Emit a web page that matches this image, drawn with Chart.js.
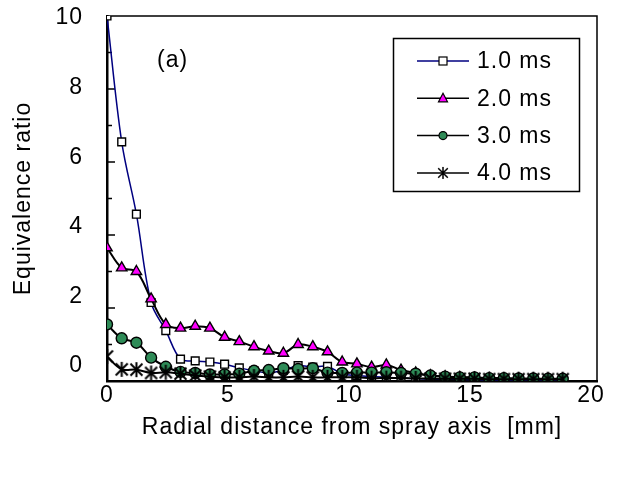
<!DOCTYPE html>
<html>
<head>
<meta charset="utf-8">
<style>
  html, body { margin: 0; padding: 0; background: #fff; }
  #wrap { width: 619px; height: 477px; }
</style>
<script src="https://cdn.jsdelivr.net/npm/chart.js@4.4.1/dist/chart.umd.min.js"></script>
</head>
<body>
<div id="wrap"><canvas id="chart" width="619" height="477"></canvas></div>
<script>
// radial positions [mm]
const distance = [0, 0.6, 1.2, 1.8, 2.4, 3.0, 3.6, 4.2, 4.8, 5.4, 6.0, 6.6, 7.2, 7.8, 8.4, 9.0,
  9.6, 10.2, 10.8, 11.4, 12.0, 12.6, 13.2, 13.8, 14.4, 15.0, 15.6, 16.2, 16.8, 17.4, 18.0, 18.6];

// equivalence ratio for each time after injection
const phi10 = [10, 6.55, 4.57, 2.15, 1.38, 0.6, 0.55, 0.52, 0.46, 0.36, 0.28, 0.22, 0.3, 0.42, 0.38, 0.4,
  0.2, 0.15, 0.12, 0.1, 0.08, 0.06, 0.05, 0.05, 0.04, 0.04, 0.03, 0.03, 0.03, 0.03, 0.02, 0.02];
const phi20 = [3.65, 3.1, 3.0, 2.25, 1.55, 1.45, 1.5, 1.45, 1.2, 1.08, 0.94, 0.82, 0.76, 1.0, 0.94, 0.8,
  0.52, 0.47, 0.38, 0.44, 0.3, 0.22, 0.15, 0.12, 0.1, 0.08, 0.07, 0.06, 0.05, 0.05, 0.04, 0.04];
const phi30 = [1.55, 1.17, 1.05, 0.64, 0.39, 0.25, 0.22, 0.18, 0.18, 0.2, 0.28, 0.3, 0.35, 0.33, 0.35, 0.23,
  0.22, 0.23, 0.23, 0.24, 0.22, 0.2, 0.15, 0.12, 0.1, 0.1, 0.08, 0.08, 0.07, 0.07, 0.06, 0.06];
const phi40 = [0.67, 0.32, 0.31, 0.22, 0.24, 0.2, 0.15, 0.12, 0.1, 0.1, 0.12, 0.1, 0.1, 0.12, 0.1, 0.1,
  0.1, 0.1, 0.08, 0.08, 0.08, 0.07, 0.07, 0.06, 0.06, 0.06, 0.05, 0.05, 0.05, 0.05, 0.05, 0.05];

const seriesLabels = ["1.0 ms", "2.0 ms", "3.0 ms", "4.0 ms"];
const xTicks = [0, 5, 10, 15, 20];
const yTicks = [0, 2, 4, 6, 8, 10];

const FONT = "Liberation Sans, Arial, sans-serif";
const FSIZE = 23;
const SPACING = "1px";

function pts(ys) {
  return distance.map((x, i) => ({ x: x, y: ys[i] }));
}

// asterisk marker like the spreadsheet one (vertical bar + X)
function makeStar(size, lw) {
  const c = document.createElement("canvas");
  c.width = size; c.height = size;
  const g = c.getContext("2d");
  const m = size / 2, r = size / 2 - 1;
  g.strokeStyle = "#000";
  g.lineWidth = lw;
  g.beginPath();
  g.moveTo(m, m - r); g.lineTo(m, m + r);
  const d = r * 0.8;
  g.moveTo(m - d, m - d); g.lineTo(m + d, m + d);
  g.moveTo(m + d, m - d); g.lineTo(m - d, m + d);
  g.stroke();
  return c;
}
const starBig = makeStar(17, 2);
const starSmall = makeStar(14, 1.5);

const spacingPlugin = {
  id: "spacing",
  beforeLayout(chart) { chart.ctx.letterSpacing = SPACING; },
  beforeDraw(chart) { chart.ctx.letterSpacing = SPACING; }
};

const framePlugin = {
  id: "frame",
  beforeDatasetsDraw(chart) {
    const { ctx, chartArea: a, scales } = chart;
    ctx.save();
    ctx.strokeStyle = "#000";
    ctx.lineWidth = 1.5;
    ctx.beginPath();
    ctx.moveTo(a.left, a.top);
    ctx.lineTo(a.right, a.top);
    ctx.lineTo(a.right, a.bottom);
    ctx.stroke();
    // inner ticks
    ctx.beginPath();
    for (let v = 1; v < 10; v++) {
      const y = scales.yd.getPixelForValue(v);
      ctx.moveTo(a.left, y);
      ctx.lineTo(a.left + (v % 2 === 0 ? 8 : 5), y);
    }
    for (let v = 5; v < 20; v += 5) {
      const x = scales.xd.getPixelForValue(v);
      ctx.moveTo(x, a.bottom);
      ctx.lineTo(x, a.bottom - 8);
    }
    ctx.stroke();
    ctx.restore();
  },
  afterDraw(chart) {
    const ctx = chart.ctx;
    ctx.save();
    ctx.letterSpacing = SPACING;
    ctx.fillStyle = "#000";
    ctx.font = FSIZE + "px " + FONT;
    ctx.textBaseline = "middle";
    ctx.textAlign = "left";
    ctx.fillText("(a)", 157, 61);

    // legend box
    ctx.strokeStyle = "#000";
    ctx.lineWidth = 1.5;
    ctx.fillStyle = "#fff";
    ctx.fillRect(393, 38, 186, 153);
    ctx.strokeRect(393.5, 38.5, 186, 153);

    chart.data.datasets.forEach((ds, i) => {
      const y = 61 + i * 37.3;
      ctx.strokeStyle = ds.borderColor;
      ctx.lineWidth = 1.5;
      ctx.beginPath();
      ctx.moveTo(417, y);
      ctx.lineTo(469, y);
      ctx.stroke();
      const mx = 443;
      ctx.strokeStyle = "#000";
      ctx.lineWidth = 1.2;
      ctx.fillStyle = ds.pointBackgroundColor;
      if (i === 0) {
        ctx.fillRect(mx - 4, y - 4, 8, 8);
        ctx.strokeRect(mx - 4, y - 4, 8, 8);
      } else if (i === 1) {
        ctx.beginPath();
        ctx.moveTo(mx, y - 5);
        ctx.lineTo(mx + 4.5, y + 3.5);
        ctx.lineTo(mx - 4.5, y + 3.5);
        ctx.closePath();
        ctx.fill(); ctx.stroke();
      } else if (i === 2) {
        ctx.beginPath();
        ctx.arc(mx, y, 4, 0, Math.PI * 2);
        ctx.fill(); ctx.stroke();
      } else {
        ctx.drawImage(starSmall, mx - 7, y - 7);
      }
      ctx.fillStyle = "#000";
      ctx.fillText(ds.label, 477, y + 1);
    });
    ctx.restore();
  }
};

function noPad(s) {
  s.paddingTop = 0; s.paddingBottom = 0;
  s.paddingLeft = 0; s.paddingRight = 0;
}

const ctx = document.getElementById("chart").getContext("2d");

new Chart(ctx, {
  type: "line",
  data: {
    datasets: [
      {
        label: seriesLabels[0],
        data: pts(phi10),
        xAxisID: "xd", yAxisID: "yd",
        borderColor: "#000080",
        borderWidth: 1.5,
        pointStyle: "rect",
        pointRadius: 5.5,
        pointBackgroundColor: "#ffffff",
        pointBorderColor: "#000",
        pointBorderWidth: 1.4,
        tension: 0.35,
        order: 4
      },
      {
        label: seriesLabels[1],
        data: pts(phi20),
        xAxisID: "xd", yAxisID: "yd",
        borderColor: "#000000",
        borderWidth: 2,
        pointStyle: "triangle",
        pointRadius: 6,
        pointBackgroundColor: "#ff00ff",
        pointBorderColor: "#000",
        pointBorderWidth: 1.4,
        tension: 0.35,
        order: 3
      },
      {
        label: seriesLabels[2],
        data: pts(phi30),
        xAxisID: "xd", yAxisID: "yd",
        borderColor: "#000000",
        borderWidth: 2,
        pointStyle: "circle",
        pointRadius: 5.5,
        pointBackgroundColor: "#2e8b57",
        pointBorderColor: "#000",
        pointBorderWidth: 1.4,
        tension: 0.35,
        order: 2
      },
      {
        label: seriesLabels[3],
        data: pts(phi40),
        xAxisID: "xd", yAxisID: "yd",
        borderColor: "#000000",
        borderWidth: 2,
        pointStyle: starBig,
        pointRadius: 8,
        pointBackgroundColor: "#000",
        pointBorderColor: "#000",
        tension: 0.35,
        order: 1
      }
    ]
  },
  options: {
    responsive: false,
    animation: false,
    devicePixelRatio: 1,
    layout: { padding: { left: 0, right: 22, top: 16, bottom: 0 } },
    plugins: {
      legend: { display: false },
      tooltip: { enabled: false }
    },
    scales: {
      // data axes (hidden)
      xd: { type: "linear", position: "bottom", min: 0, max: 20, display: false },
      yd: { type: "linear", position: "left", min: 0, max: 10, display: false },
      // label axes, placed like the printed figure's tick labels
      x: {
        type: "linear",
        position: "bottom",
        min: 0,
        max: 20.25,
        afterBuildTicks: s => { s.ticks = xTicks.map(v => ({ value: v })); },
        afterFit: s => { s.height = 96; noPad(s); },
        ticks: { color: "#000", font: { family: FONT, size: FSIZE }, padding: -7, maxRotation: 0 },
        grid: { display: false },
        border: { display: true, color: "#000", width: 2.5 },
        title: { display: true, text: "Radial distance from spray axis  [mm]", color: "#000",
                 font: { family: FONT, size: FSIZE }, padding: { top: 0, bottom: 36 } }
      },
      y: {
        type: "linear",
        position: "left",
        min: -0.431,
        max: 10.057,
        afterBuildTicks: s => { s.ticks = yTicks.map(v => ({ value: v })); },
        afterFit: s => { s.width = 107; noPad(s); },
        ticks: { color: "#000", font: { family: FONT, size: FSIZE }, padding: 16 },
        grid: { display: false },
        border: { display: true, color: "#000", width: 2.5 },
        title: { display: true, text: "Equivalence ratio", color: "#000",
                 font: { family: FONT, size: FSIZE }, padding: { top: 10, bottom: 4 } }
      }
    }
  },
  plugins: [spacingPlugin, framePlugin]
});
</script>
</body>
</html>
